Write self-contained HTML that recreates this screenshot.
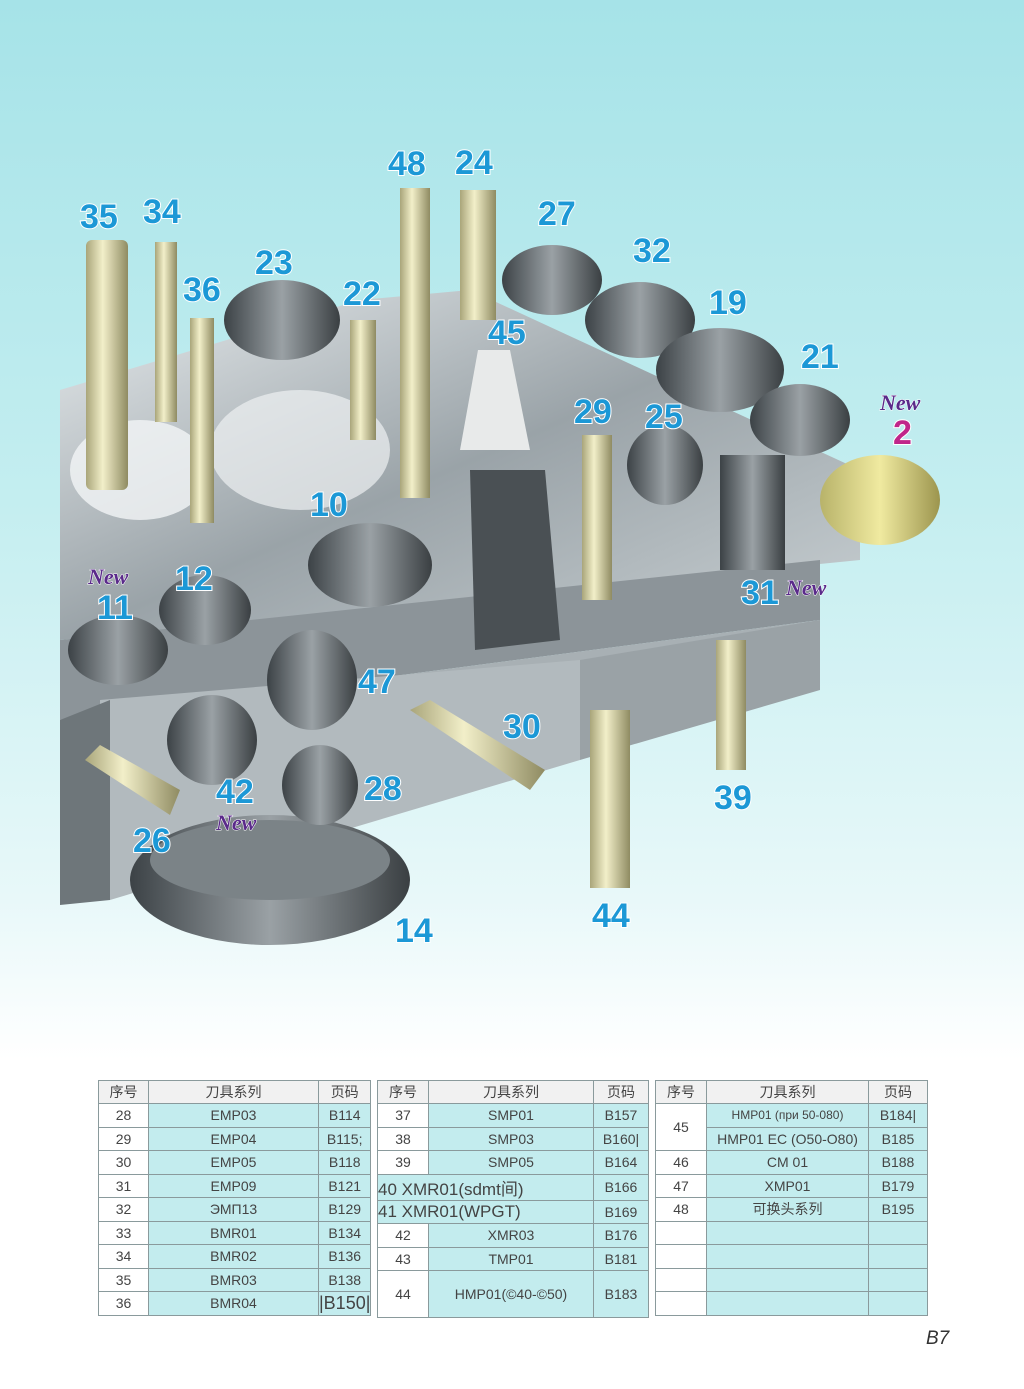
<!DOCTYPE html>
<html><head><meta charset="utf-8"><style>
body{margin:0;width:1024px;height:1389px;position:relative;overflow:hidden;font-family:"Liberation Sans","Noto Sans CJK SC",sans-serif;background:linear-gradient(180deg,#a6e3e8 0px,#c4eef0 500px,#e8f8f9 900px,#ffffff 1060px,#fff 1389px);}
svg{position:absolute;left:0;top:0}
table{position:absolute;border-collapse:collapse;top:1080px;font-size:14px;color:#444}
td{border:1px solid #8a9a9c;height:22.5px;padding:0;text-align:center;background:#c3ecee}
tr:first-child td{background:#f1f1f1;height:22px}
td.n{background:#fff}
.pg{position:absolute;left:926px;top:1328px;font-style:italic;font-size:19px;color:#333}
</style></head><body>
<svg width="1024" height="1000" viewBox="0 0 1024 1000">
<defs>
<linearGradient id="top" x1="0" y1="0" x2="1" y2="1"><stop offset="0" stop-color="#e8ecee"/><stop offset=".5" stop-color="#9aa3a8"/><stop offset="1" stop-color="#c9d0d3"/></linearGradient>
<linearGradient id="tool" x1="0" x2="1"><stop offset="0" stop-color="#a9a57a"/><stop offset=".4" stop-color="#f2efc9"/><stop offset="1" stop-color="#8f8b62"/></linearGradient>
<linearGradient id="dk" x1="0" x2="1"><stop offset="0" stop-color="#3c4246"/><stop offset=".5" stop-color="#9aa1a5"/><stop offset="1" stop-color="#3a3f42"/></linearGradient>
<linearGradient id="gold" x1="0" x2="1"><stop offset="0" stop-color="#b8b36a"/><stop offset=".5" stop-color="#f0eaa0"/><stop offset="1" stop-color="#9c954e"/></linearGradient>
</defs>
<polygon points="60,390 360,300 470,290 860,470 860,560 60,640" fill="url(#top)"/>
<polygon points="60,640 820,560 820,620 60,720" fill="#8c9499"/>
<polygon points="60,720 820,620 820,680 560,720 110,760 60,760" fill="#a8b0b4"/>
<polygon points="100,700 580,660 580,760 110,900 100,900" fill="#b2babe"/>
<polygon points="60,720 110,700 110,900 60,905" fill="#6e767a"/>
<polygon points="580,660 820,620 820,690 580,760" fill="#9aa2a6"/>
<ellipse cx="140" cy="470" rx="70" ry="50" fill="#f3f5f6" opacity=".8"/>
<ellipse cx="300" cy="450" rx="90" ry="60" fill="#eef1f2" opacity=".7"/>
<ellipse cx="270" cy="880" rx="140" ry="65" fill="url(#dk)"/>
<ellipse cx="270" cy="860" rx="120" ry="40" fill="#7b8387"/>
<rect x="86" y="240" width="42" height="250" rx="6" fill="url(#tool)"/>
<rect x="155" y="242" width="22" height="180" fill="url(#tool)"/>
<rect x="190" y="318" width="24" height="205" fill="url(#tool)"/>
<rect x="350" y="320" width="26" height="120" fill="url(#tool)"/>
<rect x="400" y="188" width="30" height="310" fill="url(#tool)"/>
<rect x="460" y="190" width="36" height="130" fill="url(#tool)"/>
<rect x="582" y="435" width="30" height="165" fill="url(#tool)"/>
<rect x="590" y="710" width="40" height="178" fill="url(#tool)"/>
<rect x="716" y="640" width="30" height="130" fill="url(#tool)"/>
<polygon points="410,710 430,700 545,770 530,790" fill="url(#tool)"/>
<polygon points="85,760 100,745 180,790 170,815" fill="url(#tool)"/>
<polygon points="478,350 510,350 530,450 460,450" fill="#e8eaea"/>
<polygon points="470,470 545,470 560,640 475,650" fill="#4a5054"/>
<g fill="url(#dk)">
<ellipse cx="282" cy="320" rx="58" ry="40"/><ellipse cx="552" cy="280" rx="50" ry="35"/><ellipse cx="640" cy="320" rx="55" ry="38"/>
<ellipse cx="720" cy="370" rx="64" ry="42"/><ellipse cx="800" cy="420" rx="50" ry="36"/><ellipse cx="370" cy="565" rx="62" ry="42"/>
<ellipse cx="205" cy="610" rx="46" ry="35"/><ellipse cx="118" cy="650" rx="50" ry="35"/><ellipse cx="665" cy="465" rx="38" ry="40"/>
<ellipse cx="312" cy="680" rx="45" ry="50"/><ellipse cx="212" cy="740" rx="45" ry="45"/><ellipse cx="320" cy="785" rx="38" ry="40"/>
<rect x="720" y="455" width="65" height="115"/>
</g>
<ellipse cx="880" cy="500" rx="60" ry="45" fill="url(#gold)"/>
<g font-family="Liberation Sans,sans-serif" font-weight="bold" font-size="34" fill="#1c98d6" stroke="#fff" stroke-width="2" paint-order="stroke">
<text x="80" y="228">35</text><text x="143" y="223">34</text><text x="183" y="301">36</text><text x="255" y="274">23</text>
<text x="343" y="305">22</text><text x="388" y="175">48</text><text x="455" y="174">24</text><text x="538" y="225">27</text>
<text x="633" y="262">32</text><text x="709" y="314">19</text><text x="801" y="368">21</text><text x="488" y="344">45</text>
<text x="574" y="423">29</text><text x="645" y="428">25</text><text x="310" y="516">10</text><text x="175" y="590">12</text>
<text x="97" y="619">11</text><text x="741" y="604">31</text><text x="358" y="693">47</text><text x="503" y="738">30</text>
<text x="364" y="800">28</text><text x="216" y="803">42</text><text x="133" y="852">26</text><text x="714" y="809">39</text>
<text x="395" y="942">14</text><text x="592" y="927">44</text>
<text x="893" y="444" fill="#c0268a">2</text>
</g>
<g font-family="Liberation Serif,serif" font-style="italic" font-weight="bold" font-size="22" fill="#5a2a8a" stroke="#fff" stroke-width="1" paint-order="stroke">
<text x="880" y="410">New</text><text x="88" y="584">New</text><text x="786" y="595">New</text><text x="216" y="830">New</text>
</g>
</svg>
<table style="left:98px"><colgroup><col style="width:50px"><col style="width:170px"><col style="width:52px"></colgroup>
<tr><td>序号</td><td>刀具系列</td><td>页码</td></tr>
<tr><td class="n">28</td><td>EMP03</td><td>B114</td></tr>
<tr><td class="n">29</td><td>EMP04</td><td>B115;</td></tr>
<tr><td class="n">30</td><td>EMP05</td><td>B118</td></tr>
<tr><td class="n">31</td><td>EMP09</td><td>B121</td></tr>
<tr><td class="n">32</td><td>ЭМП13</td><td>B129</td></tr>
<tr><td class="n">33</td><td>BMR01</td><td>B134</td></tr>
<tr><td class="n">34</td><td>BMR02</td><td>B136</td></tr>
<tr><td class="n">35</td><td>BMR03</td><td>B138</td></tr>
<tr><td class="n">36</td><td>BMR04</td><td style="font-size:18px">|B150|</td></tr>
</table>
<table style="left:377px"><colgroup><col style="width:51px"><col style="width:165px"><col style="width:55px"></colgroup>
<tr><td>序号</td><td>刀具系列</td><td>页码</td></tr>
<tr><td class="n">37</td><td>SMP01</td><td>B157</td></tr>
<tr><td class="n">38</td><td>SMP03</td><td>B160|</td></tr>
<tr><td class="n">39</td><td>SMP05</td><td>B164</td></tr>
<tr><td colspan="2" style="font-size:17px;text-align:left">40 XMR01(sdmt间)</td><td>B166</td></tr>
<tr><td colspan="2" style="font-size:17px;text-align:left">41 XMR01(WPGT)</td><td>B169</td></tr>
<tr><td class="n">42</td><td>XMR03</td><td>B176</td></tr>
<tr><td class="n">43</td><td>TMP01</td><td>B181</td></tr>
<tr><td class="n" style="height:46px">44</td><td>HMP01(©40-©50)</td><td>B183</td></tr>
</table>
<table style="left:655px"><colgroup><col style="width:51px"><col style="width:162px"><col style="width:59px"></colgroup>
<tr><td>序号</td><td>刀具系列</td><td>页码</td></tr>
<tr><td class="n" rowspan="2">45</td><td style="font-size:12px">HMP01 (при 50-080)</td><td>B184|</td></tr>
<tr><td>HMP01 EC (O50-O80)</td><td>B185</td></tr>
<tr><td class="n">46</td><td>CM 01</td><td>B188</td></tr>
<tr><td class="n">47</td><td>XMP01</td><td>B179</td></tr>
<tr><td class="n">48</td><td>可换头系列</td><td>B195</td></tr>
<tr><td class="n"></td><td></td><td></td></tr>
<tr><td class="n"></td><td></td><td></td></tr>
<tr><td class="n"></td><td></td><td></td></tr>
<tr><td class="n"></td><td></td><td></td></tr>
</table>
<div class="pg">B7</div>
</body></html>
